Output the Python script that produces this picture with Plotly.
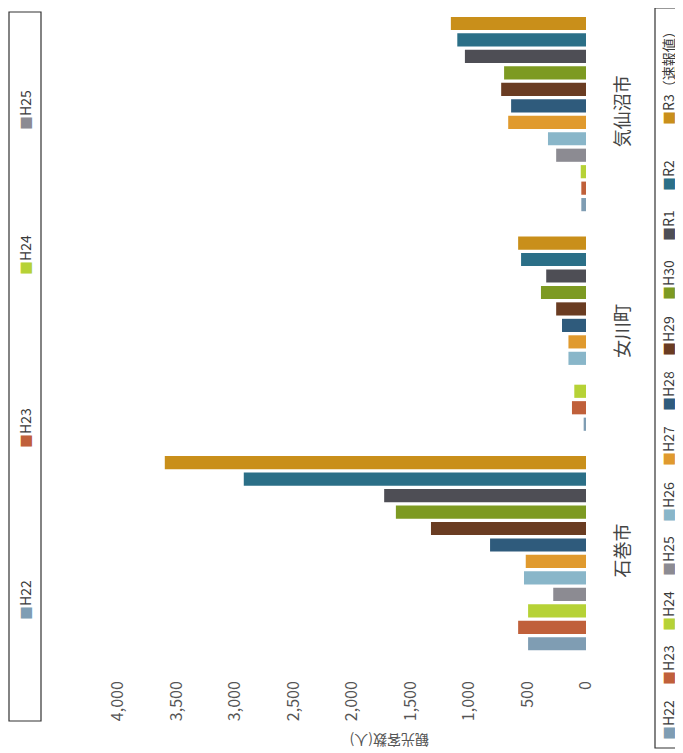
import plotly.graph_objects as go

# ---- data ----
categories = ["石巻市", "女川町", "気仙沼市"]
series_names = ["H22", "H23", "H24", "H25", "H26", "H27", "H28", "H29", "H30", "R1", "R2", "R3（速報値）"]
series_colors = ["#7f9db3", "#c0603a", "#b6d236", "#8c8b92", "#89b6c9", "#e09a2e",
                 "#2f5b7c", "#6a3c22", "#7d9a22", "#4e4e55", "#2b6f87", "#c98f1a"]
# values per series: [石巻市, 女川町, 気仙沼市]
values = {
    "H22": [495, 20, 40],
    "H23": [580, 120, 40],
    "H24": [495, 100, 45],
    "H25": [280, 0, 255],
    "H26": [530, 150, 325],
    "H27": [515, 150, 665],
    "H28": [820, 205, 640],
    "H29": [1325, 255, 725],
    "H30": [1625, 385, 700],
    "R1": [1725, 340, 1035],
    "R2": [2925, 555, 1100],
    "R3（速報値）": [3600, 580, 1155],
}
axis_title = "観光客数(人)"
side_legend_names = ["H22", "H23", "H24", "H25"]

# ---- layout helpers (screen pixel -> paper); page body adds an 8px offset ----
OFF = 8
W, H = 675, 745
ML, MR, MT, MB = 110, 97, 0, 90
PW, PH = W - ML - MR, H - MT - MB


def px(x):
    return (x - OFF - ML) / PW


def py(y):
    return (H - MB - (y - OFF)) / PH


FONT = "Noto Sans CJK JP"

fig = go.Figure()
for name, color in zip(series_names, series_colors):
    fig.add_trace(go.Bar(
        y=categories, x=values[name], name=name, orientation="h",
        marker=dict(color=color, line=dict(width=0)),
        showlegend=False,
    ))

annotations = []
shapes = []

# right legend (rotated, reading bottom to top)
shapes.append(dict(type="rect", xref="paper", yref="paper",
                   x0=px(655), x1=px(681), y0=py(748), y1=py(8),
                   line=dict(color="#333333", width=1.2)))
legend_centers = [720, 665, 611, 556, 502, 446, 391, 336, 280, 226, 176, 75]
for name, color, cy in zip(series_names, series_colors, legend_centers):
    annotations.append(dict(
        xref="paper", yref="paper", x=px(668), y=py(cy),
        xanchor="center", yanchor="middle", textangle=-90, showarrow=False,
        text=f"<span style='color:{color}'>■</span>{name}",
        font=dict(family=FONT, size=14, color="#3a3a3a"),
    ))

# left partial legend box
shapes.append(dict(type="rect", xref="paper", yref="paper",
                   x0=px(9), x1=px(41), y0=py(721), y1=py(12),
                   line=dict(color="#333333", width=1.2)))
side_centers = [600, 428, 255, 110]
for name, cy in zip(side_legend_names, side_centers):
    color = series_colors[series_names.index(name)]
    annotations.append(dict(
        xref="paper", yref="paper", x=px(25), y=py(cy),
        xanchor="center", yanchor="middle", textangle=-90, showarrow=False,
        text=f"<span style='color:{color}'>■</span>{name}",
        font=dict(family=FONT, size=14, color="#3a3a3a"),
    ))

# value axis title (upside down, at the bottom edge)
annotations.append(dict(
    xref="paper", yref="paper", x=px(390), y=py(741),
    xanchor="center", yanchor="middle", textangle=180, showarrow=False,
    text=axis_title, font=dict(family=FONT, size=14, color="#555555"),
))

fig.update_layout(
    width=W, height=H,
    margin=dict(l=ML, r=MR, t=MT, b=MB, autoexpand=False),
    paper_bgcolor="white", plot_bgcolor="white",
    barmode="group", bargap=0.1, bargroupgap=0.2,
    font=dict(family=FONT, color="#555555"),
    annotations=annotations, shapes=shapes,
)
fig.update_xaxes(
    range=[4000, 0], dtick=500, tickformat=",", tickangle=-90,
    showgrid=False, zeroline=False, showline=False, automargin=False,
    tickfont=dict(family=FONT, size=16, color="#555555"),
    ticks="", ticklabelstandoff=14,
)
fig.update_yaxes(
    side="right", tickangle=-90, showgrid=False, zeroline=False, showline=False,
    automargin=False, range=[-0.5, 2.483],
    tickfont=dict(family=FONT, size=18, color="#444444"),
    ticks="", ticklabelstandoff=24,
)

fig.write_html("out.html")
